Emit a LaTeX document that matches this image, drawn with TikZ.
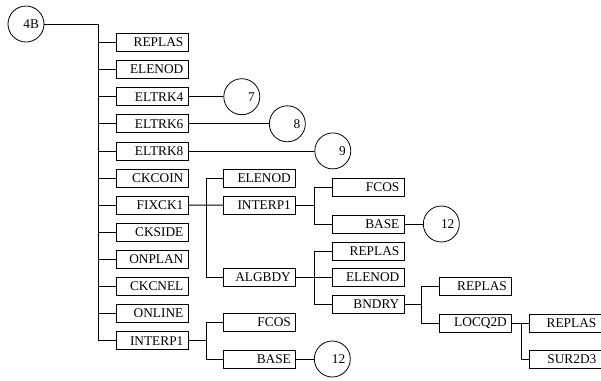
\documentclass[tikz,border=0pt]{standalone}
\usepackage{fontspec}
\setmainfont{Liberation Serif}
\usetikzlibrary{positioning}

\begin{document}
\begin{tikzpicture}[
        x=0.75pt, y=-0.75pt,
        line width=0.6pt,
        every node/.style={font=\fontsize{10}{12}\selectfont},
        box/.style={rectangle, draw, minimum width=54pt, minimum height=13.5pt,
            inner xsep=3.5pt, inner ysep=0pt, text width=47pt, align=right},
        num/.style={circle, draw, minimum size=27pt, inner sep=0pt,
            text width=19.5pt, align=right}
    ]
    \useasboundingbox (0,0) rectangle (601,380);

    % root and first level
    \node[num] (root) at (26,24) {4B};
    \coordinate (bus1) at (98,24);
    \foreach \name/\txt [count=\i from 0] in {replasA/REPLAS, elenodA/ELENOD,
            eltrkA/ELTRK4, eltrkB/ELTRK6, eltrkC/ELTRK8, ckcoin/CKCOIN,
            fixck/FIXCK1, ckside/CKSIDE, onplan/ONPLAN, ckcnel/CKCNEL,
            online/ONLINE, interpA/INTERP1}
        \node[box] (\name) at (152, 42.5+27.1*\i) {\txt};

    \draw (root.east) -- (bus1) |- (interpA.west);
    \foreach \name in {replasA, elenodA, eltrkA, eltrkB, eltrkC, ckcoin,
            fixck, ckside, onplan, ckcnel, online}
        \draw (bus1 |- \name) -- (\name.west);

    \node[num, right=26.25pt of eltrkA] (seven) {7};
    \node[num, right=60.4pt of eltrkB] (eight) {8};
    \node[num, right=94.5pt of eltrkC] (nine) {9};
    \draw (eltrkA.east) -- (seven.west);
    \draw (eltrkB.east) -- (eight.west);
    \draw (eltrkC.east) -- (nine.west);

    % FIXCK1 branch
    \node[box] (elenodB) at (259.5,178) {ELENOD};
    \node[box] (interpB) at (259.5,205.1) {INTERP1};
    \node[box] (algbdy) at (259.5,277.5) {ALGBDY};
    \coordinate (bus2) at (206,178);
    \draw (elenodB.west) -- (bus2) |- (algbdy.west);
    \draw (fixck.east) -- (interpB.west);

    \node[box] (fcosA) at (368,187) {FCOS};
    \node[box] (baseA) at (368,224) {BASE};
    \coordinate (bus3) at (314,187);
    \draw (fcosA.west) -- (bus3) |- (baseA.west);
    \draw (interpB.east) -- (bus3 |- interpB);
    \node[num, right=13.9pt of baseA] (twelveA) {12};
    \draw (baseA.east) -- (twelveA.west);

    \node[box] (replasB) at (368,251) {REPLAS};
    \node[box] (elenodC) at (368,277.5) {ELENOD};
    \node[box] (bndry) at (368,304.5) {BNDRY};
    \coordinate (bus4) at (314,251);
    \draw (replasB.west) -- (bus4) |- (bndry.west);
    \draw (algbdy.east) -- (elenodC.west);

    \node[box] (replasC) at (475.5,286) {REPLAS};
    \node[box] (locq) at (475.5,323) {LOCQ2D};
    \coordinate (bus5) at (421.7,286);
    \draw (replasC.west) -- (bus5) |- (locq.west);
    \draw (bndry.east) -- (bus5 |- bndry);

    \node[box] (replasD) at (565,323) {REPLAS};
    \node[box] (surf) at (565,359) {SUR2D3};
    \coordinate (bus6) at (521.7,323);
    \draw (locq.east) -- (replasD.west);
    \draw (bus6) |- (surf.west);

    % INTERP1 branch
    \node[box] (fcosB) at (259.5,322) {FCOS};
    \node[box] (baseB) at (259.5,359) {BASE};
    \coordinate (bus7) at (206,322);
    \draw (fcosB.west) -- (bus7) |- (baseB.west);
    \draw (interpA.east) -- (bus7 |- interpA);
    \node[num, right=13.5pt of baseB] (twelveB) {12};
    \draw (baseB.east) -- (twelveB.west);
\end{tikzpicture}
\end{document}
